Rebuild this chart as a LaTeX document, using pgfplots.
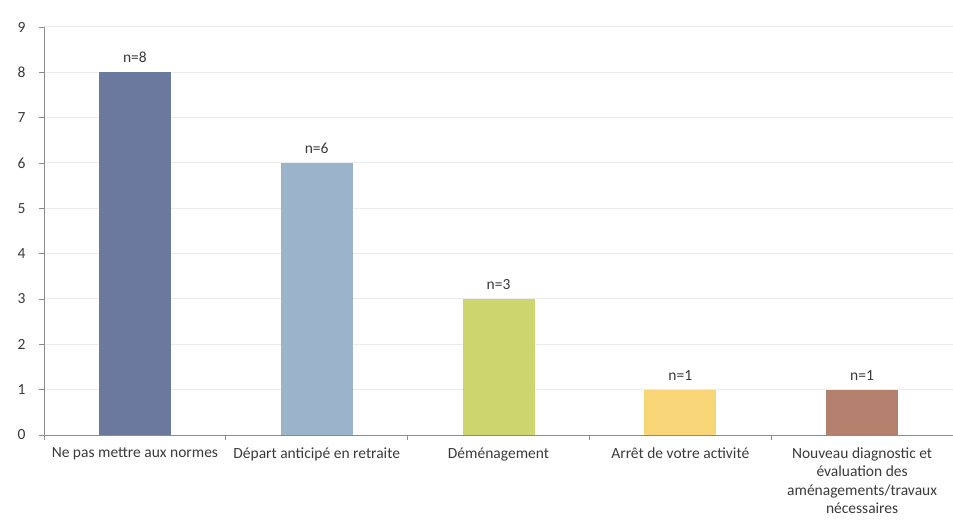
\documentclass[border=0pt]{standalone}
\usepackage{pgfplots}
\pgfplotsset{compat=1.18}
\usepackage{fontspec}
\setmainfont{Carlito}

\definecolor{barA}{HTML}{6B799F}
\definecolor{barB}{HTML}{9BB3CB}
\definecolor{barC}{HTML}{CDD56E}
\definecolor{barD}{HTML}{F8D576}
\definecolor{barE}{HTML}{B2806C}
\definecolor{axgray}{HTML}{8C8C8C}
\definecolor{gridgray}{HTML}{ECECEC}
\definecolor{txt}{HTML}{3A3A3A}

\begin{document}
\begin{tikzpicture}[font=\fontsize{15.5bp}{20bp}\selectfont, text=txt]
\begin{axis}[
  scale only axis,
  width=909bp, height=408bp,
  xmin=-0.5, xmax=4.5, ymin=0, ymax=9,
  axis lines*=left,
  axis line style={draw=axgray, line width=0.8bp},
  ytick={0,...,9},
  ymajorgrids,
  major grid style={draw=gridgray, line width=1bp},
  tick align=outside,
  major tick length=5bp,
  tick style={draw=axgray, line width=0.8bp},
  yticklabel style={xshift=-10bp, text=txt},
  /pgf/number format/assume math mode=true,
  xtick={0,...,4},
  xticklabels={
    Ne pas mettre aux normes,
    Départ anticipé en retraite,
    Déménagement,
    Arrêt de votre activité,
    {Nouveau diagnostic et\\évaluation des\\aménagements/travaux\\nécessaires}},
  xticklabel style={align=center, yshift=-4bp, text=txt,
    font=\fontsize{15.5bp}{18.5bp}\selectfont},
  xtick style={draw=none},
  extra x ticks={-0.5,0.5,1.5,2.5,3.5,4.5},
  extra x tick labels={},
  extra x tick style={xtick style={draw=axgray}, grid=none},
  ybar, bar width=72bp, bar shift=0pt,
  nodes near coords={n=\pgfmathprintnumber{\pgfplotspointmeta}},
  nodes near coords style={text=txt, yshift=6bp},
  clip=false,
]
\addplot[fill=barA, draw=none] coordinates {(0,8)};
\addplot[fill=barB, draw=none] coordinates {(1,6)};
\addplot[fill=barC, draw=none] coordinates {(2,3)};
\addplot[fill=barD, draw=none] coordinates {(3,1)};
\addplot[fill=barE, draw=none] coordinates {(4,1)};
\end{axis}
\pgfresetboundingbox
\path[use as bounding box]
  ([xshift=-44bp,yshift=-85bp]current axis.south west)
  rectangle ([yshift=27bp]current axis.north east);
\end{tikzpicture}
\end{document}
